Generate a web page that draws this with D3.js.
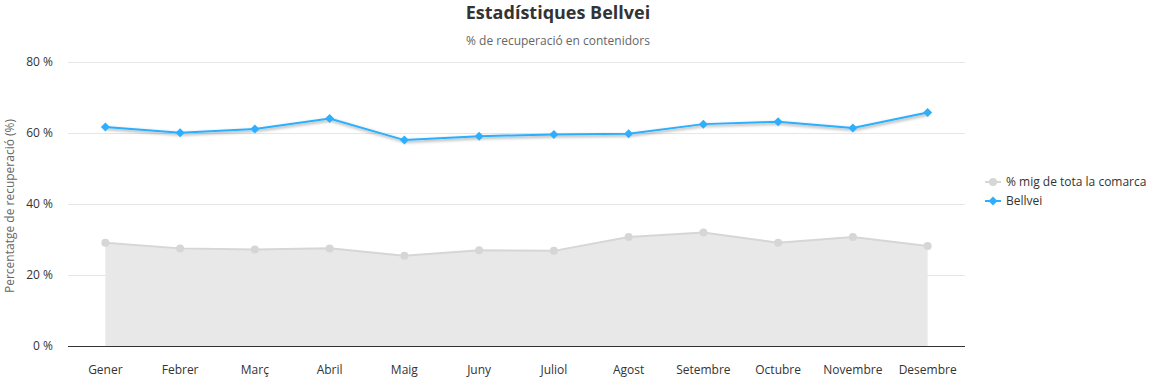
<!DOCTYPE html>
<html>
<head>
<meta charset="utf-8">
<script src="https://cdn.jsdelivr.net/npm/d3@7"></script>
<style>
  html, body { margin: 0; padding: 0; background: #fff; }
  svg { display: block; font-family: "Open Sans", "Noto Sans", sans-serif; }
</style>
</head>
<body>
<div id="chart"></div>
<script>
// ── Data ─────────────────────────────────────────────────────────────────
const months = ['Gener', 'Febrer', 'Març', 'Abril', 'Maig', 'Juny', 'Juliol',
                'Agost', 'Setembre', 'Octubre', 'Novembre', 'Desembre'];
const comarcaAvg = [29.1, 27.5, 27.2, 27.5, 25.4, 27.0, 26.8, 30.7, 32.0, 29.1, 30.7, 28.2];
const bellvei    = [61.7, 60.1, 61.1, 64.1, 58.0, 59.1, 59.6, 59.8, 62.5, 63.2, 61.4, 65.8];
const yTicks     = [0, 20, 40, 60, 80];

// ── Layout ────────────────────────────────────────────────────────────────
const width = 1161, height = 380;
const plot = { left: 68, right: 965, top: 62, bottom: 346 };

const svg = d3.select('#chart').append('svg')
    .attr('width', width).attr('height', height);

const x = d3.scaleBand().domain(months).range([plot.left, plot.right]);
const cx = d => x(d) + x.bandwidth() / 2;
const y = d3.scaleLinear().domain([0, 80]).range([plot.bottom, plot.top]);

// shadow for the blue line
const defs = svg.append('defs');
const f = defs.append('filter').attr('id', 'shadow')
    .attr('x', '-5%').attr('y', '-50%').attr('width', '110%').attr('height', '200%');
f.append('feDropShadow').attr('dx', 1).attr('dy', 1.5).attr('stdDeviation', 1.6)
    .attr('flood-color', '#000').attr('flood-opacity', 0.4);

// Title
svg.append('text')
    .attr('x', 558).attr('y', 19).attr('text-anchor', 'middle')
    .style('font-size', '18px').style('font-weight', '700').style('fill', '#333')
    .text('Estadístiques Bellvei');
svg.append('text')
    .attr('x', 558).attr('y', 45).attr('text-anchor', 'middle')
    .style('font-size', '12px').style('fill', '#666')
    .text('% de recuperació en contenidors');

// ── Grid + y labels ───────────────────────────────────────────────────────
svg.append('g').selectAll('line')
    .data(yTicks.filter(t => t > 0))
    .join('line')
    .attr('x1', plot.left).attr('x2', plot.right)
    .attr('y1', d => y(d) + 0.5).attr('y2', d => y(d) + 0.5)
    .attr('stroke', '#e6e6e6');

svg.append('g').selectAll('text')
    .data(yTicks)
    .join('text')
    .attr('x', 53).attr('y', d => y(d) + 4)
    .attr('text-anchor', 'end')
    .style('font-size', '12px').style('fill', '#333')
    .text(d => d + ' %');

svg.append('text')
    .attr('transform', 'translate(14,' + ((plot.top + plot.bottom) / 2 + 2) + ') rotate(-90)')
    .attr('text-anchor', 'middle')
    .style('font-size', '12px').style('fill', '#666')
    .text('Percentatge de recuperació (%)');

// ── Grey area series ──────────────────────────────────────────────────────
const area = d3.area()
    .x((d, i) => cx(months[i])).y0(y(0)).y1(d => y(d));
const line = d3.line()
    .x((d, i) => cx(months[i])).y(d => y(d));

svg.append('path').datum(comarcaAvg)
    .attr('d', area).attr('fill', '#e8e8e8');
svg.append('path').datum(comarcaAvg)
    .attr('d', line).attr('fill', 'none')
    .attr('stroke', '#d6d6d6').attr('stroke-width', 2);
svg.append('g').selectAll('circle')
    .data(comarcaAvg)
    .join('circle')
    .attr('cx', (d, i) => cx(months[i])).attr('cy', d => y(d))
    .attr('r', 4).attr('fill', '#d6d6d6');

// ── X axis ────────────────────────────────────────────────────────────────
svg.append('line')
    .attr('x1', plot.left).attr('x2', plot.right)
    .attr('y1', plot.bottom + 0.5).attr('y2', plot.bottom + 0.5)
    .attr('stroke', '#333').attr('stroke-width', 1);

svg.append('g').selectAll('text')
    .data(months)
    .join('text')
    .attr('x', d => cx(d)).attr('y', 374)
    .attr('text-anchor', 'middle')
    .style('font-size', '12px').style('fill', '#333')
    .text(d => d);

// ── Blue line series ──────────────────────────────────────────────────────
const blue = '#2caffe';
const bg = svg.append('g').attr('filter', 'url(#shadow)');
bg.append('path').datum(bellvei)
    .attr('d', line).attr('fill', 'none')
    .attr('stroke', blue).attr('stroke-width', 2);
const diamond = 'M0,-4.5L4.5,0L0,4.5L-4.5,0Z';
svg.append('g').selectAll('path')
    .data(bellvei)
    .join('path')
    .attr('transform', (d, i) => 'translate(' + cx(months[i]) + ',' + y(d) + ')')
    .attr('d', diamond).attr('fill', blue);

// ── Legend ────────────────────────────────────────────────────────────────
const legend = [
    { label: '% mig de tota la comarca', color: '#d6d6d6', shape: 'circle' },
    { label: 'Bellvei', color: blue, shape: 'diamond' }
];
const lg = svg.append('g').selectAll('g')
    .data(legend)
    .join('g')
    .attr('transform', (d, i) => 'translate(985,' + (182 + i * 19) + ')');
lg.append('line')
    .attr('x1', 0).attr('x2', 16).attr('y1', 0).attr('y2', 0)
    .attr('stroke', d => d.color).attr('stroke-width', 2);
lg.filter(d => d.shape === 'circle').append('circle')
    .attr('cx', 8).attr('cy', 0).attr('r', 4).attr('fill', d => d.color);
lg.filter(d => d.shape === 'diamond').append('path')
    .attr('transform', 'translate(8,0)').attr('d', diamond).attr('fill', d => d.color);
lg.append('text')
    .attr('x', 21).attr('y', 4)
    .style('font-size', '12px').style('fill', '#333')
    .text(d => d.label);
</script>
</body>
</html>
